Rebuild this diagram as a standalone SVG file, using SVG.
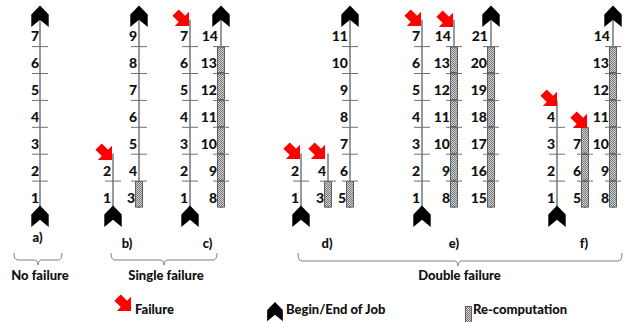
<svg xmlns="http://www.w3.org/2000/svg" xmlns:xlink="http://www.w3.org/1999/xlink" width="635" height="322" viewBox="0 0 635 322">
  <style>
    .ax { stroke: #555; stroke-width: 1.2; }
    .tk { stroke: #707070; stroke-width: 1; }
    .rc { fill: url(#hatch); stroke: #444; stroke-width: 0.8; }
    .num { font-family: Lato, "Liberation Sans", sans-serif; font-weight: 900; font-size: 14px; fill: #111; text-anchor: end; }
    .lbl { font-family: Lato, "Liberation Sans", sans-serif; font-weight: 900; font-size: 13px; fill: #111; text-anchor: middle; }
    .leg { font-family: Lato, "Liberation Sans", sans-serif; font-weight: 900; font-size: 13px; fill: #111; }
    .chev { fill: #000; }
    .arr { fill: #f00; }
    .brace { fill: none; stroke: #808080; stroke-width: 1; }
  </style>
  <defs>
    <pattern id="hatch" width="2" height="2" patternUnits="userSpaceOnUse">
      <rect width="2" height="2" fill="#d0d0d0"/>
      <rect width="1" height="1" fill="#7a7a7a"/>
      <rect x="1" y="1" width="1" height="1" fill="#7a7a7a"/>
    </pattern>
    <!-- job begin/end marker, origin at its apex -->
    <path id="chev" d="M0,0 L8.7,9 L8.7,21.5 L0,14.3 L-8.7,21.5 L-8.7,9 Z"/>
    <!-- failure arrow, origin at its tip, pointing along +x -->
    <path id="fail" d="M0,0 L-10,-10 L-10,-4.5 L-19,-4.5 L-19,4.5 L-10,4.5 L-10,10 Z"/>
  </defs>

  <!-- a) no failure -->
  <g id="col-a">
    <line class="ax" x1="40" y1="19.7" x2="40" y2="208"/>
    <line class="tk" x1="32" y1="181.1" x2="48" y2="181.1"/>
    <line class="tk" x1="32" y1="154.2" x2="48" y2="154.2"/>
    <line class="tk" x1="32" y1="127.3" x2="48" y2="127.3"/>
    <line class="tk" x1="32" y1="100.4" x2="48" y2="100.4"/>
    <line class="tk" x1="32" y1="73.5" x2="48" y2="73.5"/>
    <line class="tk" x1="32" y1="46.6" x2="48" y2="46.6"/>
    <text class="num" x="39" y="202.5">1</text>
    <text class="num" x="39" y="175.6">2</text>
    <text class="num" x="39" y="148.7">3</text>
    <text class="num" x="39" y="121.8">4</text>
    <text class="num" x="39" y="94.9">5</text>
    <text class="num" x="39" y="68">6</text>
    <text class="num" x="39" y="41.1">7</text>
    <use href="#chev" class="chev" transform="translate(40,5.4)"/>
    <use href="#chev" class="chev" transform="translate(40,205.5)"/>
  </g>

  <!-- b) single failure, first run -->
  <g id="col-b1">
    <line class="ax" x1="113" y1="153.5" x2="113" y2="208"/>
    <line class="tk" x1="105" y1="181.1" x2="121" y2="181.1"/>
    <text class="num" x="111" y="202.5">1</text>
    <text class="num" x="111" y="175.6">2</text>
    <use href="#chev" class="chev" transform="translate(113,205.5)"/>
    <use href="#fail" class="arr" transform="translate(112,160) rotate(45)"/>
  </g>

  <!-- b) restart -->
  <g id="col-b2">
    <line class="ax" x1="139" y1="19.7" x2="139" y2="208"/>
    <rect class="rc" x="135.5" y="181.5" width="7" height="25.6"/>
    <line class="tk" x1="131" y1="181.1" x2="147" y2="181.1"/>
    <line class="tk" x1="131" y1="154.2" x2="147" y2="154.2"/>
    <line class="tk" x1="131" y1="127.3" x2="147" y2="127.3"/>
    <line class="tk" x1="131" y1="100.4" x2="147" y2="100.4"/>
    <line class="tk" x1="131" y1="73.5" x2="147" y2="73.5"/>
    <line class="tk" x1="131" y1="46.6" x2="147" y2="46.6"/>
    <text class="num" x="135" y="202.5">3</text>
    <text class="num" x="137" y="175.6">4</text>
    <text class="num" x="137" y="148.7">5</text>
    <text class="num" x="137" y="121.8">6</text>
    <text class="num" x="137" y="94.9">7</text>
    <text class="num" x="137" y="68">8</text>
    <text class="num" x="137" y="41.1">9</text>
    <use href="#chev" class="chev" transform="translate(139,5.4)"/>
  </g>

  <!-- c) single failure at the end, first run -->
  <g id="col-c1">
    <line class="ax" x1="190" y1="19.7" x2="190" y2="208"/>
    <line class="tk" x1="182" y1="181.1" x2="198" y2="181.1"/>
    <line class="tk" x1="182" y1="154.2" x2="198" y2="154.2"/>
    <line class="tk" x1="182" y1="127.3" x2="198" y2="127.3"/>
    <line class="tk" x1="182" y1="100.4" x2="198" y2="100.4"/>
    <line class="tk" x1="182" y1="73.5" x2="198" y2="73.5"/>
    <line class="tk" x1="182" y1="46.6" x2="198" y2="46.6"/>
    <text class="num" x="188" y="202.5">1</text>
    <text class="num" x="188" y="175.6">2</text>
    <text class="num" x="188" y="148.7">3</text>
    <text class="num" x="188" y="121.8">4</text>
    <text class="num" x="188" y="94.9">5</text>
    <text class="num" x="188" y="68">6</text>
    <text class="num" x="188" y="41.1">7</text>
    <use href="#chev" class="chev" transform="translate(190,205.5)"/>
    <use href="#fail" class="arr" transform="translate(189,26) rotate(45)"/>
  </g>

  <!-- c) restart -->
  <g id="col-c2">
    <line class="ax" x1="221" y1="19.7" x2="221" y2="208"/>
    <rect class="rc" x="217.5" y="181.5" width="7" height="25.6"/>
    <rect class="rc" x="217.5" y="154.6" width="7" height="25.6"/>
    <rect class="rc" x="217.5" y="127.7" width="7" height="25.6"/>
    <rect class="rc" x="217.5" y="100.8" width="7" height="25.6"/>
    <rect class="rc" x="217.5" y="73.9" width="7" height="25.6"/>
    <rect class="rc" x="217.5" y="47" width="7" height="25.6"/>
    <line class="tk" x1="213" y1="181.1" x2="229" y2="181.1"/>
    <line class="tk" x1="213" y1="154.2" x2="229" y2="154.2"/>
    <line class="tk" x1="213" y1="127.3" x2="229" y2="127.3"/>
    <line class="tk" x1="213" y1="100.4" x2="229" y2="100.4"/>
    <line class="tk" x1="213" y1="73.5" x2="229" y2="73.5"/>
    <line class="tk" x1="213" y1="46.6" x2="229" y2="46.6"/>
    <text class="num" x="217" y="202.5">8</text>
    <text class="num" x="217" y="175.6">9</text>
    <text class="num" x="217" y="148.7">10</text>
    <text class="num" x="217" y="121.8">11</text>
    <text class="num" x="217" y="94.9">12</text>
    <text class="num" x="217" y="68">13</text>
    <text class="num" x="218" y="41.1">14</text>
    <use href="#chev" class="chev" transform="translate(221,5.4)"/>
  </g>

  <!-- d) double failure, early -->
  <g id="col-d1">
    <line class="ax" x1="301" y1="153.5" x2="301" y2="208"/>
    <line class="tk" x1="293" y1="181.1" x2="309" y2="181.1"/>
    <text class="num" x="299" y="202.5">1</text>
    <text class="num" x="299" y="175.6">2</text>
    <use href="#chev" class="chev" transform="translate(301,205.5)"/>
    <use href="#fail" class="arr" transform="translate(300,159) rotate(45)"/>
  </g>
  <g id="col-d2">
    <line class="ax" x1="328" y1="153.5" x2="328" y2="208"/>
    <rect class="rc" x="324.5" y="181.5" width="7" height="25.6"/>
    <line class="tk" x1="320" y1="181.1" x2="336" y2="181.1"/>
    <text class="num" x="324" y="202.5">3</text>
    <text class="num" x="326" y="175.6">4</text>
    <use href="#fail" class="arr" transform="translate(325,159) rotate(45)"/>
  </g>
  <g id="col-d3">
    <line class="ax" x1="350" y1="19.7" x2="350" y2="208"/>
    <rect class="rc" x="346.5" y="181.5" width="7" height="25.6"/>
    <line class="tk" x1="342" y1="181.1" x2="358" y2="181.1"/>
    <line class="tk" x1="342" y1="154.2" x2="358" y2="154.2"/>
    <line class="tk" x1="342" y1="127.3" x2="358" y2="127.3"/>
    <line class="tk" x1="342" y1="100.4" x2="358" y2="100.4"/>
    <line class="tk" x1="342" y1="73.5" x2="358" y2="73.5"/>
    <line class="tk" x1="342" y1="46.6" x2="358" y2="46.6"/>
    <text class="num" x="346" y="202.5">5</text>
    <text class="num" x="348" y="175.6">6</text>
    <text class="num" x="348" y="148.7">7</text>
    <text class="num" x="348" y="121.8">8</text>
    <text class="num" x="348" y="94.9">9</text>
    <text class="num" x="348" y="68">10</text>
    <text class="num" x="348" y="41.1">11</text>
    <use href="#chev" class="chev" transform="translate(350,5.4)"/>
  </g>

  <!-- e) double failure at the end of each run -->
  <g id="col-e1">
    <line class="ax" x1="422" y1="19.7" x2="422" y2="208"/>
    <line class="tk" x1="414" y1="181.1" x2="430" y2="181.1"/>
    <line class="tk" x1="414" y1="154.2" x2="430" y2="154.2"/>
    <line class="tk" x1="414" y1="127.3" x2="430" y2="127.3"/>
    <line class="tk" x1="414" y1="100.4" x2="430" y2="100.4"/>
    <line class="tk" x1="414" y1="73.5" x2="430" y2="73.5"/>
    <line class="tk" x1="414" y1="46.6" x2="430" y2="46.6"/>
    <text class="num" x="420" y="202.5">1</text>
    <text class="num" x="420" y="175.6">2</text>
    <text class="num" x="420" y="148.7">3</text>
    <text class="num" x="420" y="121.8">4</text>
    <text class="num" x="420" y="94.9">5</text>
    <text class="num" x="420" y="68">6</text>
    <text class="num" x="420" y="41.1">7</text>
    <use href="#chev" class="chev" transform="translate(422,205.5)"/>
    <use href="#fail" class="arr" transform="translate(421,26) rotate(45)"/>
  </g>
  <g id="col-e2">
    <line class="ax" x1="454" y1="19.7" x2="454" y2="208"/>
    <rect class="rc" x="450.5" y="181.5" width="7" height="25.6"/>
    <rect class="rc" x="450.5" y="154.6" width="7" height="25.6"/>
    <rect class="rc" x="450.5" y="127.7" width="7" height="25.6"/>
    <rect class="rc" x="450.5" y="100.8" width="7" height="25.6"/>
    <rect class="rc" x="450.5" y="73.9" width="7" height="25.6"/>
    <rect class="rc" x="450.5" y="47" width="7" height="25.6"/>
    <line class="tk" x1="446" y1="181.1" x2="462" y2="181.1"/>
    <line class="tk" x1="446" y1="154.2" x2="462" y2="154.2"/>
    <line class="tk" x1="446" y1="127.3" x2="462" y2="127.3"/>
    <line class="tk" x1="446" y1="100.4" x2="462" y2="100.4"/>
    <line class="tk" x1="446" y1="73.5" x2="462" y2="73.5"/>
    <line class="tk" x1="446" y1="46.6" x2="462" y2="46.6"/>
    <text class="num" x="450" y="202.5">8</text>
    <text class="num" x="450" y="175.6">9</text>
    <text class="num" x="450" y="148.7">10</text>
    <text class="num" x="450" y="121.8">11</text>
    <text class="num" x="450" y="94.9">12</text>
    <text class="num" x="450" y="68">13</text>
    <text class="num" x="451" y="41.1">14</text>
    <use href="#fail" class="arr" transform="translate(453,27) rotate(45)"/>
  </g>
  <g id="col-e3">
    <line class="ax" x1="491" y1="19.7" x2="491" y2="208"/>
    <rect class="rc" x="487.5" y="181.5" width="7" height="25.6"/>
    <rect class="rc" x="487.5" y="154.6" width="7" height="25.6"/>
    <rect class="rc" x="487.5" y="127.7" width="7" height="25.6"/>
    <rect class="rc" x="487.5" y="100.8" width="7" height="25.6"/>
    <rect class="rc" x="487.5" y="73.9" width="7" height="25.6"/>
    <rect class="rc" x="487.5" y="47" width="7" height="25.6"/>
    <line class="tk" x1="483" y1="181.1" x2="499" y2="181.1"/>
    <line class="tk" x1="483" y1="154.2" x2="499" y2="154.2"/>
    <line class="tk" x1="483" y1="127.3" x2="499" y2="127.3"/>
    <line class="tk" x1="483" y1="100.4" x2="499" y2="100.4"/>
    <line class="tk" x1="483" y1="73.5" x2="499" y2="73.5"/>
    <line class="tk" x1="483" y1="46.6" x2="499" y2="46.6"/>
    <text class="num" x="487" y="202.5">15</text>
    <text class="num" x="487" y="175.6">16</text>
    <text class="num" x="487" y="148.7">17</text>
    <text class="num" x="487" y="121.8">18</text>
    <text class="num" x="487" y="94.9">19</text>
    <text class="num" x="487" y="68">20</text>
    <text class="num" x="488" y="41.1">21</text>
    <use href="#chev" class="chev" transform="translate(491,5.4)"/>
  </g>

  <!-- f) double failure, second during re-computation -->
  <g id="col-f1">
    <line class="ax" x1="557" y1="100.4" x2="557" y2="208"/>
    <line class="tk" x1="549" y1="181.1" x2="565" y2="181.1"/>
    <line class="tk" x1="549" y1="154.2" x2="565" y2="154.2"/>
    <line class="tk" x1="549" y1="127.3" x2="565" y2="127.3"/>
    <text class="num" x="555" y="202.5">1</text>
    <text class="num" x="555" y="175.6">2</text>
    <text class="num" x="555" y="148.7">3</text>
    <text class="num" x="555" y="121.8">4</text>
    <use href="#chev" class="chev" transform="translate(557,205.5)"/>
    <use href="#fail" class="arr" transform="translate(557,106) rotate(45)"/>
  </g>
  <g id="col-f2">
    <line class="ax" x1="585" y1="127.3" x2="585" y2="208"/>
    <rect class="rc" x="581.5" y="181.5" width="7" height="25.6"/>
    <rect class="rc" x="581.5" y="154.6" width="7" height="25.6"/>
    <rect class="rc" x="581.5" y="127.7" width="7" height="25.6"/>
    <line class="tk" x1="577" y1="181.1" x2="593" y2="181.1"/>
    <line class="tk" x1="577" y1="154.2" x2="593" y2="154.2"/>
    <text class="num" x="581" y="202.5">5</text>
    <text class="num" x="581" y="175.6">6</text>
    <text class="num" x="581" y="148.7">7</text>
    <use href="#fail" class="arr" transform="translate(587,128) rotate(45)"/>
  </g>
  <g id="col-f3">
    <line class="ax" x1="613" y1="19.7" x2="613" y2="208"/>
    <rect class="rc" x="609.5" y="181.5" width="7" height="25.6"/>
    <rect class="rc" x="609.5" y="154.6" width="7" height="25.6"/>
    <rect class="rc" x="609.5" y="127.7" width="7" height="25.6"/>
    <rect class="rc" x="609.5" y="100.8" width="7" height="25.6"/>
    <rect class="rc" x="609.5" y="73.9" width="7" height="25.6"/>
    <rect class="rc" x="609.5" y="47" width="7" height="25.6"/>
    <line class="tk" x1="605" y1="181.1" x2="621" y2="181.1"/>
    <line class="tk" x1="605" y1="154.2" x2="621" y2="154.2"/>
    <line class="tk" x1="605" y1="127.3" x2="621" y2="127.3"/>
    <line class="tk" x1="605" y1="100.4" x2="621" y2="100.4"/>
    <line class="tk" x1="605" y1="73.5" x2="621" y2="73.5"/>
    <line class="tk" x1="605" y1="46.6" x2="621" y2="46.6"/>
    <text class="num" x="609" y="202.5">8</text>
    <text class="num" x="609" y="175.6">9</text>
    <text class="num" x="609" y="148.7">10</text>
    <text class="num" x="609" y="121.8">11</text>
    <text class="num" x="609" y="94.9">12</text>
    <text class="num" x="609" y="68">13</text>
    <text class="num" x="610" y="41.1">14</text>
    <use href="#chev" class="chev" transform="translate(613,5.4)"/>
  </g>

  <!-- case letters -->
  <g id="case-labels">
    <text class="lbl" x="37.5" y="242">a)</text>
    <text class="lbl" x="127" y="248">b)</text>
    <text class="lbl" x="207.5" y="248">c)</text>
    <text class="lbl" x="327" y="248">d)</text>
    <text class="lbl" x="454" y="248">e)</text>
    <text class="lbl" x="584" y="248">f)</text>
  </g>

  <!-- grouping braces -->
  <g id="braces">
    <path class="brace" d="M14,253 Q14,260 18,260 L34,260 Q38,260 38,265 Q38,260 42,260 L58,260 Q62,260 62,253"/>
    <path class="brace" d="M111,253 Q111,260 115,260 L160,260 Q164,260 164,265 Q164,260 168,260 L213,260 Q217,260 217,253"/>
    <path class="brace" d="M298,253 Q298,261 302,261 L454,261 Q458,261 458,266 Q458,261 462,261 L618,261 Q622,261 622,253"/>
  </g>
  <g id="group-labels">
    <text class="lbl" x="40" y="280">No failure</text>
    <text class="lbl" x="166" y="280">Single failure</text>
    <text class="lbl" x="459.5" y="280">Double failure</text>
  </g>

  <!-- legend -->
  <g id="legend">
    <use href="#fail" class="arr" transform="translate(131,311) rotate(45)"/>
    <text class="leg" x="135" y="314">Failure</text>
    <use href="#chev" class="chev" transform="translate(275,302) scale(0.9)"/>
    <text class="leg" x="286" y="314">Begin/End of Job</text>
    <rect class="rc" x="465.5" y="306.5" width="6" height="16"/>
    <text class="leg" x="473" y="314">Re-computation</text>
  </g>
</svg>
